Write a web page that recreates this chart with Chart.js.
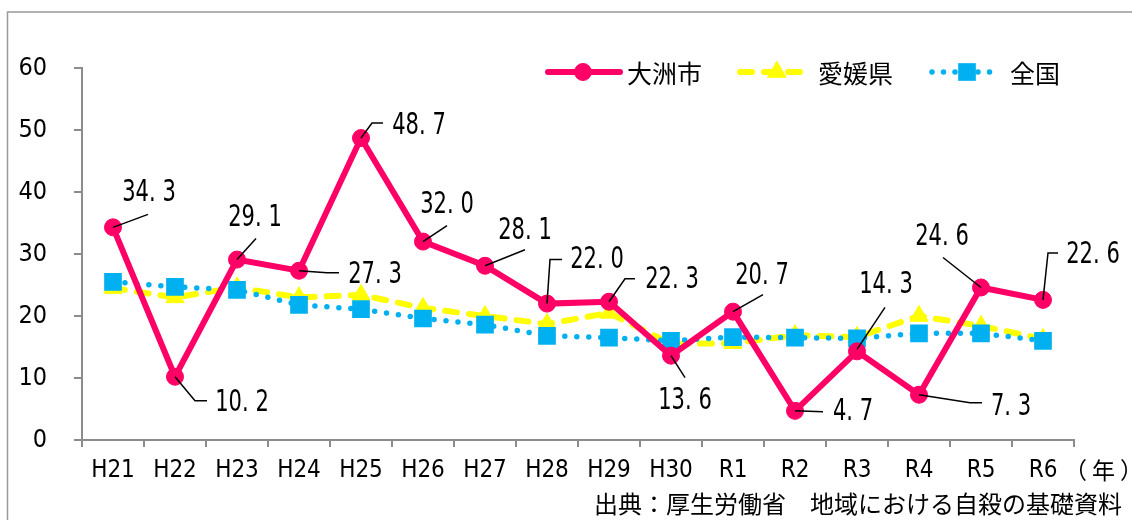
<!DOCTYPE html>
<html>
<head>
<meta charset="utf-8">
<script src="https://cdn.jsdelivr.net/npm/chart.js@4.4.1/dist/chart.umd.min.js"></script>
<style>
  html, body { margin: 0; padding: 0; background: #fff; }
  #wrap { width: 1132px; height: 520px; position: relative; }
</style>
</head>
<body>
<div id="wrap"><canvas id="c"></canvas></div>
<script>
// ---- data ----
const categories = ['H21','H22','H23','H24','H25','H26','H27','H28','H29','H30','R1','R2','R3','R4','R5','R6'];
const ozuValues      = [34.3, 10.2, 29.1, 27.3, 48.7, 32.0, 28.1, 22.0, 22.3, 13.6, 20.7, 4.7, 14.3, 7.3, 24.6, 22.6];
const ehimeValues    = [24.5, 23.0, 24.6, 23.0, 23.4, 21.3, 20.0, 18.7, 20.5, 15.5, 15.6, 16.9, 16.6, 20.0, 18.4, 16.3];
const nationalValues = [25.5, 24.7, 24.2, 21.8, 21.1, 19.6, 18.6, 16.8, 16.5, 16.0, 16.6, 16.5, 16.4, 17.2, 17.2, 16.0];
const seriesNames = ['大洲市', '愛媛県', '全国'];
const yTicks = [0, 10, 20, 30, 40, 50, 60];
const unitLabel = '（年）';
const sourceText = '出典：厚生労働省　地域における自殺の基礎資料';

// label placement for 大洲市 values (relative to point): [dx, dy] label centre, leader polyline
const labelOffsets = [
  [36,-35], [67,25], [18,-42], [76,3], [58,-13], [24,-37], [40,-36], [50,-44],
  [63,-23], [14,45], [29,-36], [58,0], [29,-67], [92,11], [-39,-51], [50,-46]
];
const leaderPaths = [
  [[0,0],[35,-13]],
  [[0,0],[20,24],[32,24]],
  [[0,0],[19,-21]],
  [[0,0],[28,2],[40,2]],
  [[0,0],[11,-15],[22,-15]],
  [[0,0],[24,-16]],
  [[0,0],[40,-16]],
  [[0,0],[3,-44],[15,-44]],
  [[0,0],[16,-23],[26,-23]],
  [[0,0],[14,22]],
  [[0,0],[30,-17]],
  [[0,0],[28,1]],
  [[0,-2],[28,-44]],
  [[0,0],[51,8],[63,8]],
  [[0,0],[-38,-30]],
  [[0,0],[5,-47],[15,-47]]
];

const NARROW = "'Liberation Sans Narrow', 'DejaVu Sans Condensed', 'Noto Sans CJK JP', sans-serif";
const CJK = "'Noto Sans CJK JP', 'Noto Sans', sans-serif";
const PINK = '#FF0066', YELLOW = '#FFFF00', BLUE = '#00B0F0', AXIS = '#8C8C8C';

const framePlugin = {
  id: 'frame',
  beforeDraw(chart) {
    const ctx = chart.ctx;
    ctx.save();
    ctx.fillStyle = '#fff';
    ctx.fillRect(0, 0, chart.width, chart.height);
    ctx.strokeStyle = '#999';
    ctx.lineWidth = 1.5;
    ctx.strokeRect(7.5, 12, 1140, 530);
    ctx.restore();
  }
};

const labelPlugin = {
  id: 'ozuLabels',
  afterDatasetsDraw(chart) {
    const ctx = chart.ctx;
    const meta = chart.getDatasetMeta(0);
    ctx.save();
    ctx.strokeStyle = '#000';
    ctx.lineWidth = 1.5;
    ctx.fillStyle = '#000';
    ctx.font = '30px ' + NARROW;
    ctx.textAlign = 'center';
    ctx.textBaseline = 'middle';
    meta.data.forEach((pt, i) => {
      const path = leaderPaths[i];
      ctx.beginPath();
      path.forEach((p, k) => {
        if (k === 0) ctx.moveTo(pt.x + p[0], pt.y + p[1]);
        else ctx.lineTo(pt.x + p[0], pt.y + p[1]);
      });
      ctx.stroke();
      const txt = ozuValues[i].toFixed(1).replace('.', '. ');
      ctx.save();
      ctx.translate(pt.x + labelOffsets[i][0], pt.y + labelOffsets[i][1]);
      ctx.scale(0.78, 1);
      ctx.fillText(txt, 0, 1);
      ctx.restore();
    });
    ctx.restore();
  }
};

const legendPlugin = {
  id: 'customLegend',
  afterDraw(chart) {
    const ctx = chart.ctx;
    const y = 72;
    const items = [
      { ds: 0, x1: 548, x2: 620, mx: 583, tx: 627 },
      { ds: 1, x1: 740, x2: 805, mx: 777, tx: 818 },
      { ds: 2, x1: 932, x2: 1000, mx: 967, tx: 1010 }
    ];
    items.forEach(it => {
      const d = chart.data.datasets[it.ds];
      ctx.save();
      ctx.strokeStyle = d.borderColor;
      ctx.lineWidth = d.borderWidth;
      ctx.lineCap = d.borderCapStyle || 'butt';
      ctx.setLineDash(d.legendDash || []);
      ctx.beginPath();
      ctx.moveTo(it.x1, y);
      ctx.lineTo(it.x2, y);
      ctx.stroke();
      ctx.setLineDash([]);
      ctx.fillStyle = d.pointBackgroundColor;
      ctx.strokeStyle = d.pointBorderColor;
      ctx.lineWidth = d.pointBorderWidth;
      Chart.helpers.drawPoint(ctx, {
        pointStyle: d.pointStyle, radius: d.pointRadius, rotation: 0, borderWidth: d.pointBorderWidth
      }, it.mx, y);
      ctx.fillStyle = '#000';
      ctx.font = '25px ' + CJK;
      ctx.textAlign = 'left';
      ctx.textBaseline = 'middle';
      ctx.fillText(d.label, it.tx, y + 1);
      ctx.restore();
    });
    // unit label and source
    ctx.save();
    ctx.fillStyle = '#000';
    ctx.textBaseline = 'middle';
    ctx.font = '23px ' + CJK;
    ctx.textAlign = 'left';
    try { ctx.letterSpacing = '5px'; } catch (e) {}
    ctx.fillText(unitLabel, 1064, 470);
    try { ctx.letterSpacing = '0px'; } catch (e) {}
    ctx.font = '24px ' + CJK;
    ctx.textAlign = 'right';
    ctx.fillText(sourceText, 1122, 504);
    ctx.restore();
  }
};

new Chart(document.getElementById('c'), {
  type: 'line',
  data: {
    labels: categories,
    datasets: [
      {
        label: seriesNames[0], data: ozuValues, order: 0,
        borderColor: PINK, borderWidth: 6, tension: 0,
        pointStyle: 'circle', pointRadius: 8.5, pointBackgroundColor: PINK,
        pointBorderColor: PINK, pointBorderWidth: 1, borderCapStyle: 'round',
        legendDash: []
      },
      {
        label: seriesNames[1], data: ehimeValues, order: 2,
        borderColor: YELLOW, borderWidth: 6, tension: 0,
        borderDash: [12, 12], borderCapStyle: 'round',
        pointStyle: 'triangle', pointRadius: 10.5, pointBackgroundColor: YELLOW,
        pointBorderColor: YELLOW, pointBorderWidth: 1,
        legendDash: [12, 12]
      },
      {
        label: seriesNames[2], data: nationalValues, order: 1,
        borderColor: BLUE, borderWidth: 5.5, tension: 0,
        borderDash: [0, 12], borderCapStyle: 'round',
        pointStyle: 'rect', pointRadius: 12.5, pointBackgroundColor: BLUE,
        pointBorderColor: BLUE, pointBorderWidth: 0,
        legendDash: [0, 11.5]
      }
    ]
  },
  options: {
    responsive: true,
    maintainAspectRatio: false,
    animation: false,
    events: [],
    layout: { padding: { top: 68, right: 58, left: 0, bottom: 0 } },
    plugins: { legend: { display: false }, tooltip: { enabled: false } },
    scales: {
      x: {
        type: 'category',
        offset: true,
        afterFit(s) { s.height = 80; },
        grid: { offset: true, drawOnChartArea: false, drawTicks: true, tickLength: 7, color: AXIS, lineWidth: 2 },
        border: { color: AXIS, width: 2 },
        ticks: { color: '#000', font: { family: NARROW, size: 24 }, padding: 9, maxRotation: 0, autoSkip: false }
      },
      y: {
        min: yTicks[0], max: yTicks[yTicks.length - 1],
        afterFit(s) { s.width = 82; },
        afterBuildTicks(s) { s.ticks = yTicks.map(v => ({ value: v })); },
        grid: { drawOnChartArea: false, drawTicks: true, tickLength: 8, color: AXIS, lineWidth: 2 },
        border: { color: AXIS, width: 2 },
        ticks: { color: '#000', font: { family: NARROW, size: 25 }, padding: 27 }
      }
    }
  },
  plugins: [framePlugin, labelPlugin, legendPlugin]
});
</script>
</body>
</html>
